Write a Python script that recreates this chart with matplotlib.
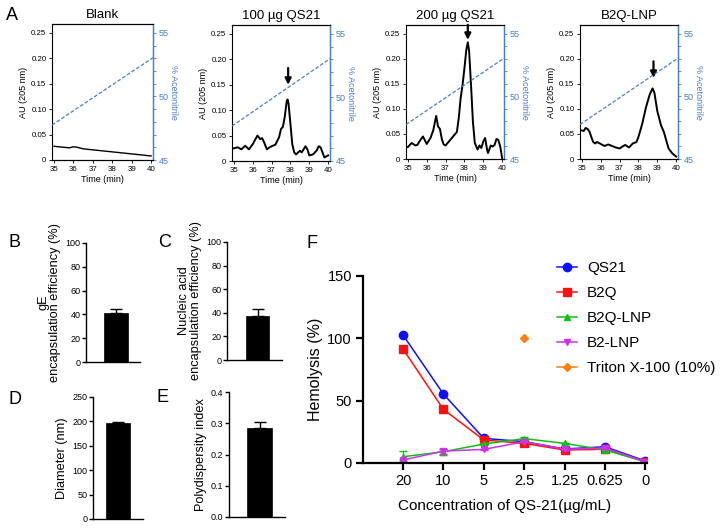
import matplotlib
matplotlib.use('Agg')
import matplotlib.pyplot as plt
from matplotlib.ticker import FixedLocator, MultipleLocator

plt.rcParams['font.family'] = ['Liberation Sans', 'DejaVu Sans']

# ---------------- Panel A data (HPLC chromatograms) ----------------
chrom_titles = ['Blank', '100 µg QS21', '200 µg QS21', 'B2Q-LNP']

blank_time = [35.0, 35.5, 35.8, 36.0, 36.2, 36.5, 37.0, 37.5, 38.0, 38.5, 39.0, 39.5, 40.0]
blank_au = [0.027, 0.025, 0.024, 0.026, 0.025, 0.022, 0.020, 0.018, 0.016, 0.014, 0.012, 0.010, 0.008]

qs100_time = [35.0, 35.2, 35.4, 35.6, 35.8, 36.0, 36.1, 36.25, 36.4, 36.5, 36.6, 36.75, 36.9,
              37.0, 37.2, 37.4, 37.5, 37.6, 37.7, 37.8, 37.85, 37.9, 38.0, 38.1, 38.2, 38.3,
              38.5, 38.6, 38.8, 38.9, 39.0, 39.2, 39.4, 39.5, 39.6, 39.7, 39.8, 39.9, 40.0]
qs100_au = [0.025, 0.027, 0.023, 0.030, 0.023, 0.033, 0.040, 0.050, 0.043, 0.045, 0.037, 0.023, 0.027,
            0.029, 0.032, 0.047, 0.063, 0.067, 0.087, 0.117, 0.121, 0.113, 0.073, 0.033, 0.017, 0.013,
            0.020, 0.017, 0.029, 0.023, 0.011, 0.013, 0.021, 0.029, 0.027, 0.017, 0.007, 0.009, 0.011]

qs200_time = [35.0, 35.2, 35.4, 35.5, 35.7, 35.8, 36.0, 36.2, 36.35, 36.5, 36.6, 36.7, 36.8, 36.9,
              37.0, 37.2, 37.4, 37.6, 37.7, 37.8, 37.9, 38.0, 38.1, 38.18, 38.25, 38.35, 38.45,
              38.55, 38.7, 38.8, 38.9, 39.0, 39.1, 39.2, 39.25, 39.4, 39.5, 39.6, 39.7, 39.8, 39.9, 40.0]
qs200_au = [0.024, 0.032, 0.027, 0.028, 0.040, 0.045, 0.030, 0.042, 0.058, 0.086, 0.065, 0.060, 0.040, 0.029,
            0.027, 0.036, 0.045, 0.054, 0.082, 0.122, 0.148, 0.181, 0.218, 0.233, 0.215, 0.148, 0.075,
            0.032, 0.019, 0.027, 0.022, 0.035, 0.042, 0.019, 0.012, 0.027, 0.025, 0.028, 0.040, 0.038, 0.025, 0.002]

lnp_time = [35.0, 35.1, 35.2, 35.3, 35.4, 35.5, 35.6, 35.7, 35.8, 36.0, 36.2, 36.4, 36.6, 36.8,
            37.0, 37.2, 37.3, 37.5, 37.7, 37.9, 38.0, 38.2, 38.4, 38.6, 38.75, 38.85, 39.0,
            39.2, 39.35, 39.5, 39.6, 39.8, 40.0]
lnp_au = [0.057, 0.056, 0.062, 0.060, 0.055, 0.044, 0.034, 0.031, 0.034, 0.030, 0.026, 0.029, 0.026, 0.023,
          0.021, 0.026, 0.028, 0.023, 0.031, 0.034, 0.044, 0.070, 0.103, 0.129, 0.141, 0.132, 0.096,
          0.067, 0.054, 0.034, 0.021, 0.011, 0.005]

chrom_time = [blank_time, qs100_time, qs200_time, lnp_time]
chrom_au = [blank_au, qs100_au, qs200_au, lnp_au]

acn_time = [34.9, 40.1]
acn_pct = [47.75, 53.05]

arrow_time = [None, 37.88, 38.18, 38.8]
arrow_tail = [None, 0.183, 0.268, 0.195]
arrow_tip = [None, 0.150, 0.238, 0.162]

au_ticks = [0, 0.05, 0.10, 0.15, 0.20, 0.25]
au_ticklabels = ['0', '0.05', '0.10', '0.15', '0.20', '0.25']
acn_ticks = [45, 50, 55]
time_ticks = [35, 36, 37, 38, 39, 40]

# ---------------- Panels B-E data (bars) ----------------
bar_labels = ['gE\nencapsulation efficiency (%)',
              'Nucleic acid\nencapsulation efficiency (%)',
              'Diameter (nm)',
              'Polydispersity index']
bar_values = [41.5, 37.5, 196.0, 0.285]
bar_errors = [3.0, 5.5, 2.0, 0.02]
bar_ymax = [100, 100, 250, 0.4]
bar_ystep = [20, 20, 50, 0.1]

# ---------------- Panel F data (hemolysis) ----------------
conc_labels = ['20', '10', '5', '2.5', '1.25', '0.625', '0']
qs21 = [102.4, 55.2, 19.7, 17.1, 11.2, 13.0, 1.6]
qs21_err = [0.5, 0.5, 0.5, 0.5, 0.5, 0.5, 0.5]
b2q = [91.2, 42.9, 18.4, 15.7, 10.4, 11.0, 1.0]
b2q_err = [1.5, 0.5, 0.5, 0.5, 0.5, 0.5, 0.5]
b2q_lnp = [5.0, 9.0, 15.2, 19.5, 15.7, 10.4, 1.0]
b2q_lnp_err = [5.0, 2.5, 0.5, 1.0, 0.5, 0.5, 0.5]
b2_lnp = [2.4, 9.5, 10.9, 17.0, 11.0, 12.0, 1.0]
b2_lnp_err = [0.5, 2.0, 0.5, 0.5, 0.5, 0.5, 0.5]
triton_pos = [3]
triton = [100.0]

W, H = 725, 529
fig = plt.figure(figsize=(W / 100, H / 100), dpi=100)


def rect(l, t, r, b):
    return [l / W, 1 - b / H, (r - l) / W, (b - t) / H]


blue = '#4a7fc8'

# ---------------- Panel A ----------------
a_rects = [(52, 24, 153, 160), (232, 25, 330, 161), (406, 25, 504, 159), (580, 25, 678, 159)]
for i, (l, t, r, b) in enumerate(a_rects):
    ax = fig.add_axes(rect(l, t, r, b))
    ax.plot(chrom_time[i], chrom_au[i], color='black', lw=1.0 if i == 0 else 1.4)
    ax.set_xlim(34.9, 40.1)
    ax.set_ylim(0, 0.2676)
    ax.set_yticks(au_ticks)
    ax.set_yticklabels(au_ticklabels)
    ax.set_xticks(time_ticks)
    ax.tick_params(labelsize=5.7, length=2.5, width=0.6, pad=1.5, direction='out')
    ax.set_ylabel('AU (205 nm)', fontsize=6.5, labelpad=2)
    ax.set_xlabel('Time (min)', fontsize=6.5, labelpad=2)
    ax.set_title(chrom_titles[i], fontsize=9.5, pad=4)
    for s in ['left', 'top', 'bottom']:
        ax.spines[s].set_linewidth(0.8)
    ax.spines['right'].set_color(blue)
    ax.spines['right'].set_linewidth(0.9)
    ax2 = ax.twinx()
    ax2.plot(acn_time, acn_pct, color=blue, lw=0.9, ls=(0, (3, 1.5)))
    ax2.set_ylim(45, 55.7)
    ax2.set_yticks(acn_ticks)
    ax2.yaxis.set_minor_locator(MultipleLocator(1))
    ax2.tick_params(axis='y', which='both', colors=blue, labelsize=6.5, width=0.6, pad=1.5)
    ax2.tick_params(axis='y', which='major', length=2.5)
    ax2.tick_params(axis='y', which='minor', length=2)
    ax2.spines['right'].set_color(blue)
    ax2.spines['right'].set_linewidth(0.9)
    ax2.spines['left'].set_visible(False)
    ax2.set_ylabel('% Acetonitrile', color=blue, fontsize=6.5, rotation=270, labelpad=7)
    if arrow_time[i] is not None:
        ax.annotate('', xy=(arrow_time[i], arrow_tip[i]), xytext=(arrow_time[i], arrow_tail[i]),
                    arrowprops=dict(arrowstyle='-|>', color='black', lw=1.6, mutation_scale=9,
                                    shrinkA=0, shrinkB=0),
                    annotation_clip=False)

fig.text(6 / W, 1 - 16 / H, 'A', fontsize=13, va='center', ha='left')

# ---------------- Panels B-E ----------------
bar_rects = [(86, 243, 140, 362), (227, 242, 282, 360), (93, 397, 143, 519), (229, 392, 285, 517)]
bar_centers = [116, 257.5, 118, 259.5]
bar_px = [24, 23, 24, 25]
for i, (l, t, r, b) in enumerate(bar_rects):
    ax = fig.add_axes(rect(l, t, r, b))
    wpx = r - l
    cx = (bar_centers[i] - l) / wpx
    ax.bar([cx], [bar_values[i]], width=bar_px[i] / wpx, color='black', edgecolor='black', lw=0.5)
    ax.errorbar([cx], [bar_values[i]], yerr=[[0], [bar_errors[i]]], fmt='none', ecolor='black',
                elinewidth=1.0, capsize=4, capthick=1.0)
    ax.set_xlim(0, 1)
    ax.set_ylim(0, bar_ymax[i])
    ax.yaxis.set_major_locator(MultipleLocator(bar_ystep[i]))
    if i == 3:
        ax.set_yticks([0, 0.1, 0.2, 0.3, 0.4])
        ax.set_yticklabels(['0.0', '0.1', '0.2', '0.3', '0.4'])
    ax.set_xticks([])
    for s in ['top', 'right']:
        ax.spines[s].set_visible(False)
    for s in ['left', 'bottom']:
        ax.spines[s].set_linewidth(1.0)
    ax.tick_params(axis='y', labelsize=6.5, length=3, width=1.0, pad=1)
    ax.set_ylabel(bar_labels[i], fontsize=9.2, labelpad=3, linespacing=1.0)

fig.text(8 / W, 1 - 243 / H, 'B', fontsize=13, va='center', ha='left')
fig.text(158 / W, 1 - 243 / H, 'C', fontsize=13, va='center', ha='left')
fig.text(8 / W, 1 - 400 / H, 'D', fontsize=13, va='center', ha='left')
fig.text(157 / W, 1 - 398 / H, 'E', fontsize=13, va='center', ha='left')
fig.text(306 / W, 1 - 244 / H, 'F', fontsize=13, va='center', ha='left')

# ---------------- Panel F ----------------
axf = fig.add_axes(rect(363, 275.5, 647, 463))
x = list(range(len(conc_labels)))
series = [
    ('QS21', qs21, qs21_err, '#1010ff', 'o', 6.0),
    ('B2Q', b2q, b2q_err, '#ff1010', 's', 5.5),
    ('B2Q-LNP', b2q_lnp, b2q_lnp_err, '#10c010', '^', 5.0),
    ('B2-LNP', b2_lnp, b2_lnp_err, '#cc33ee', 'v', 5.0),
]
handles = {}
for name, vals, errs, col, mk, ms in series:
    axf.errorbar(x, vals, yerr=errs, fmt='none', ecolor=col, elinewidth=1.0, capsize=3, capthick=1.0)
    h, = axf.plot(x, vals, color=col, marker=mk, ms=ms, lw=1.1, label=name)
    handles[name] = h
ht, = axf.plot(triton_pos, triton, color='#ff7f10', marker='D', ms=4, lw=1.1, label='Triton X-100 (10%)')

axf.set_xlim(-0.99, 6.04)
axf.set_ylim(0, 150)
axf.set_yticks([0, 50, 100, 150])
axf.set_xticks(x)
axf.set_xticklabels(conc_labels)
for s in ['top', 'right']:
    axf.spines[s].set_visible(False)
for s in ['left', 'bottom']:
    axf.spines[s].set_linewidth(1.6)
axf.tick_params(labelsize=10.5, length=5, width=1.6, pad=3)
axf.set_ylabel('Hemolysis (%)', fontsize=11.5, labelpad=3)
axf.set_xlabel('Concentration of QS-21(µg/mL)', fontsize=11, labelpad=8)

fig.legend([handles['QS21'], handles['B2Q'], handles['B2Q-LNP'], handles['B2-LNP'], ht],
           ['QS21', 'B2Q', 'B2Q-LNP', 'B2-LNP', 'Triton X-100 (10%)'],
           loc='upper left', bbox_to_anchor=(557 / W, 1 - 261 / H), frameon=False,
           fontsize=11, handlelength=1.3, handletextpad=0.65, labelspacing=0.72,
           borderpad=0, borderaxespad=0)

fig.savefig('out.png', dpi=100)
